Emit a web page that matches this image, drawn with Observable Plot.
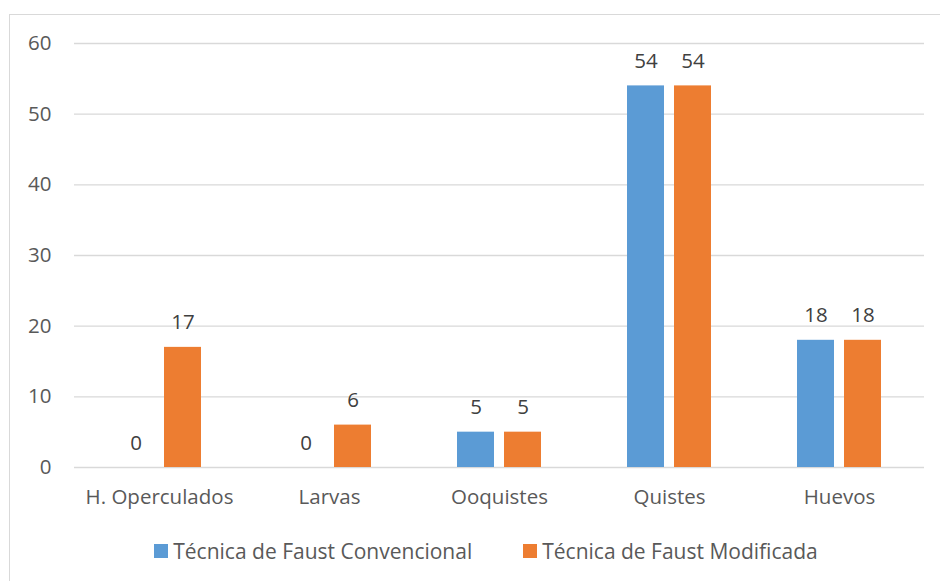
<!DOCTYPE html>
<html><head><meta charset="utf-8">
<script src="https://cdn.jsdelivr.net/npm/d3@7"></script>
<script src="https://cdn.jsdelivr.net/npm/@observablehq/plot@0.6"></script>
<style>
body{margin:0;background:#fff;font-family:"Open Sans",sans-serif;}
#wrap{position:relative;width:940px;height:581px;overflow:hidden;}
#border{position:absolute;left:9px;top:14px;width:1000px;height:1000px;border-left:1.5px solid #d9d9d9;border-top:1.5px solid #d9d9d9;box-sizing:border-box;}
#chart{position:absolute;left:0;top:0;}
#legend{position:absolute;left:0;top:537px;width:972px;display:flex;justify-content:center;gap:51px;font-size:21px;color:#595959;}
#legend span.item{display:flex;align-items:center;}
#legend span.sw{display:inline-block;width:14px;height:14px;margin-right:5px;}
</style></head>
<body><div id="wrap"><div id="border"></div><div id="chart"></div><div id="legend"></div></div>
<script>
const categories = ["H. Operculados","Larvas","Ooquistes","Quistes","Huevos"];
const seriesNames = ["Técnica de Faust Convencional","Técnica de Faust Modificada"];
const convencional = [0,0,5,54,18];
const modificada = [17,6,5,54,18];
const colors = ["#5b9bd5","#ed7d31"];
const yTicks = [0,10,20,30,40,50,60];

const data = [];
categories.forEach((c,i)=>{
  data.push({cat:c, serie:seriesNames[0], value:convencional[i]});
  data.push({cat:c, serie:seriesNames[1], value:modificada[i]});
});

const chart = Plot.plot({
  width:940, height:520,
  marginLeft:73, marginRight:16, marginTop:43, marginBottom:53,
  style:{fontFamily:"Open Sans, sans-serif", fontSize:"20.5px", color:"#595959", background:"transparent"},
  fx:{domain:categories, padding:0, label:null, axis:null},
  x:{domain:seriesNames, paddingInner:0.208, paddingOuter:0.875, axis:null},
  y:{domain:[0,60], ticks:yTicks, label:null, axis:null},
  color:{domain:seriesNames, range:colors},
  marks:[
    Plot.gridY(yTicks,{stroke:"#d9d9d9", strokeOpacity:1, strokeWidth:1.3}),
    Plot.barY(data,{fx:"cat", x:"serie", y:"value", fill:"serie"}),
    Plot.text(data,{fx:"cat", x:"serie", y:"value", text:d=>String(d.value), lineAnchor:"bottom", dy:-18, fill:"#404040", fontSize:20.5}),
    Plot.axisY({ticks:yTicks, tickSize:0, tickPadding:23, fontSize:20.5, fill:"#595959", label:null}),
    Plot.axisFx({anchor:"bottom", tickSize:0, tickPadding:22, fontSize:20.5, fill:"#595959", label:null})
  ]
});
document.getElementById("chart").appendChild(chart);
const leg = document.getElementById("legend");
seriesNames.forEach((s,i)=>{
  const it=document.createElement("span"); it.className="item";
  const sw=document.createElement("span"); sw.className="sw"; sw.style.background=colors[i];
  it.appendChild(sw); it.appendChild(document.createTextNode(s)); leg.appendChild(it);
});
</script></body></html>
